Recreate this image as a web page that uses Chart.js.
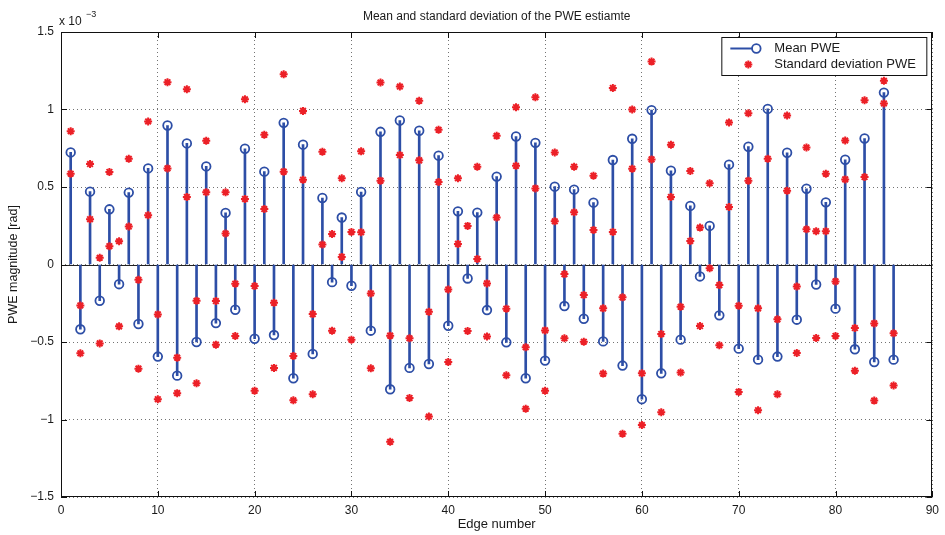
<!DOCTYPE html>
<html>
<head>
<meta charset="utf-8">
<script src="https://cdn.jsdelivr.net/npm/chart.js@4/dist/chart.umd.min.js"></script>
<style>
  html, body { margin: 0; padding: 0; background: #fff; }
  #wrap { width: 945px; height: 535px; }
</style>
</head>
<body>
<div id="wrap"><canvas id="pweChart" width="945" height="535"></canvas></div>
<script>
// values are in units of 1e-3 rad
var edges = Array.from({ length: 86 }, function (_, i) { return i + 1; });

var meanPWE = [0.723,-0.418,0.470,-0.234,0.356,-0.127,0.464,-0.384,0.620,-0.594,
  0.897,-0.717,0.781,-0.500,0.633,-0.378,0.333,-0.292,0.747,-0.479,
  0.599,-0.455,0.914,-0.734,0.773,-0.577,0.429,-0.114,0.303,-0.137,
  0.468,-0.427,0.856,-0.805,0.929,-0.667,0.863,-0.642,0.702,-0.395,
  0.343,-0.090,0.335,-0.294,0.567,-0.502,0.826,-0.734,0.785,-0.620,
  0.502,-0.268,0.483,-0.350,0.399,-0.496,0.674,-0.652,0.811,-0.869,
  0.996,-0.702,0.605,-0.485,0.378,-0.077,0.249,-0.328,0.644,-0.543,
  0.760,-0.614,1.004,-0.594,0.721,-0.356,0.489,-0.129,0.401,-0.285,
  0.676,-0.547,0.813,-0.629,1.109,-0.614];

var stdUpper = [0.860,-0.264,0.648,0.043,0.597,0.150,0.682,-0.099,0.923,-0.322,
  1.176,-0.601,1.131,-0.234,0.798,-0.236,0.466,-0.124,1.066,-0.139,
  0.837,-0.247,1.227,-0.590,0.991,-0.320,0.727,0.197,0.556,0.210,
  0.730,-0.187,1.174,-0.459,1.148,-0.476,1.056,-0.305,0.869,-0.161,
  0.556,0.249,0.631,-0.122,0.830,-0.285,1.015,-0.534,1.079,-0.425,
  0.723,-0.062,0.631,-0.197,0.573,-0.283,1.139,-0.212,1.000,-0.702,
  1.309,-0.448,0.773,-0.273,0.603,0.238,0.524,-0.133,0.916,-0.266,
  0.976,-0.283,1.326,-0.354,0.961,-0.142,0.755,0.215,0.586,-0.109,
  0.800,-0.410,1.060,-0.380,1.185,-0.444];

var stdLower = [0.586,-0.573,0.292,-0.509,0.118,-0.399,0.245,-0.672,0.318,-0.869,
  0.620,-0.830,0.436,-0.766,0.466,-0.517,0.200,-0.461,0.423,-0.815,
  0.358,-0.667,0.599,-0.876,0.547,-0.837,0.129,-0.427,0.049,-0.485,
  0.208,-0.670,0.541,-1.144,0.706,-0.861,0.672,-0.981,0.532,-0.629,
  0.133,-0.429,0.036,-0.464,0.303,-0.715,0.637,-0.931,0.491,-0.815,
  0.279,-0.476,0.337,-0.498,0.223,-0.704,0.210,-1.092,0.618,-1.036,
  0.678,-0.953,0.436,-0.697,0.152,-0.397,-0.024,-0.521,0.371,-0.822,
  0.541,-0.940,0.682,-0.837,0.476,-0.571,0.227,-0.474,0.215,-0.461,
  0.549,-0.685,0.564,-0.878,1.039,-0.781];

var xTicks = [0, 10, 20, 30, 40, 50, 60, 70, 80, 90];
var yTicks = [-1.5, -1, -0.5, 0, 0.5, 1, 1.5];

var blue = '#2d4ea6';
var red = '#ec2027';
var textColor = '#1a1a1a';
var fontFamily = '"Liberation Sans", Arial, Helvetica, sans-serif';

function pts(ys) {
  return edges.map(function (e, i) { return { x: e, y: ys[i] }; });
}

function fmtTick(v) {
  var s = String(Math.abs(v));
  return v < 0 ? '\u2212' + s : s;
}

// frame, baseline, inward ticks, titles and in-axes legend
var matlabDecor = {
  id: 'matlabDecor',
  beforeDatasetsDraw: function (chart) {
    var c = chart.ctx, a = chart.chartArea, y = chart.scales.y;
    var y0 = Math.round(y.getPixelForValue(0)) + 0.5;
    c.save();
    c.strokeStyle = '#222';
    c.lineWidth = 1;
    c.beginPath();
    c.moveTo(a.left, y0);
    c.lineTo(a.right, y0);
    c.stroke();
    c.restore();
  },
  afterDatasetsDraw: function (chart) {
    var c = chart.ctx, a = chart.chartArea;
    var xs = chart.scales.x, ys = chart.scales.y;
    c.save();
    // box
    c.strokeStyle = '#111';
    c.lineWidth = 1;
    c.strokeRect(Math.round(a.left) + 0.5, Math.round(a.top) + 0.5,
      Math.round(a.right - a.left) - 1, Math.round(a.bottom - a.top) - 1);
    // inward ticks
    var tl = 6;
    c.beginPath();
    xTicks.forEach(function (t) {
      var px = Math.round(xs.getPixelForValue(t)) + 0.5;
      c.moveTo(px, a.bottom); c.lineTo(px, a.bottom - tl);
      c.moveTo(px, a.top); c.lineTo(px, a.top + tl);
    });
    yTicks.forEach(function (t) {
      var py = Math.round(ys.getPixelForValue(t)) + 0.5;
      c.moveTo(a.left, py); c.lineTo(a.left + tl, py);
      c.moveTo(a.right, py); c.lineTo(a.right - tl, py);
    });
    c.stroke();

    // legend box
    var lx = a.right - 211, ly = a.top + 5, lw = 205, lh = 38;
    c.fillStyle = '#fff';
    c.fillRect(lx, ly, lw, lh);
    c.strokeStyle = '#111';
    c.strokeRect(lx + 0.5, ly + 0.5, lw, lh);
    c.strokeStyle = blue;
    c.lineWidth = 2;
    c.beginPath();
    c.moveTo(lx + 9, ly + 11.5);
    c.lineTo(lx + 31, ly + 11.5);
    c.stroke();
    c.lineWidth = 1.8;
    c.beginPath();
    c.arc(lx + 35, ly + 11.5, 4.3, 0, Math.PI * 2);
    c.stroke();
    c.strokeStyle = red;
    c.lineWidth = 2;
    Chart.helpers.drawPoint(c, { pointStyle: 'star', radius: 4, borderWidth: 2 }, lx + 27, ly + 27.5);
    c.fillStyle = textColor;
    c.font = '13px ' + fontFamily;
    c.textBaseline = 'middle';
    c.textAlign = 'left';
    c.fillText('Mean PWE', lx + 53, ly + 11.5);
    c.fillText('Standard deviation PWE', lx + 53, ly + 27.5);
    c.restore();
  },
  afterDraw: function (chart) {
    var c = chart.ctx, a = chart.chartArea;
    c.save();
    c.fillStyle = textColor;
    c.textBaseline = 'middle';
    c.font = '12px ' + fontFamily;
    c.textAlign = 'center';
    c.fillText('Mean and standard deviation of the PWE estiamte', (a.left + a.right) / 2, 17);
    c.font = '13px ' + fontFamily;
    c.fillText('Edge number', (a.left + a.right) / 2, 524);
    // exponent label above the y axis
    c.textAlign = 'left';
    c.font = '12px ' + fontFamily;
    c.fillText('x 10', a.left - 2, 22);
    c.font = '9px ' + fontFamily;
    c.fillText('\u22123', a.left + 25, 15);
    // y axis title
    c.translate(14, (a.top + a.bottom) / 2);
    c.rotate(-Math.PI / 2);
    c.textAlign = 'center';
    c.font = '12.5px ' + fontFamily;
    c.fillText('PWE magnitude [rad]', 0, 0);
    c.restore();
  }
};

new Chart(document.getElementById('pweChart'), {
  type: 'bar',
  data: {
    datasets: [
      {
        type: 'scatter',
        label: 'Standard deviation PWE',
        data: pts(stdUpper),
        pointStyle: 'star',
        pointRadius: 4,
        borderWidth: 2,
        borderColor: red,
        backgroundColor: red,
        order: 0
      },
      {
        type: 'scatter',
        label: 'Standard deviation PWE (lower)',
        data: pts(stdLower),
        pointStyle: 'star',
        pointRadius: 4,
        borderWidth: 2,
        borderColor: red,
        backgroundColor: red,
        order: 0
      },
      {
        type: 'scatter',
        label: 'Mean PWE',
        data: pts(meanPWE),
        pointStyle: 'circle',
        pointRadius: 4.3,
        borderWidth: 1.8,
        borderColor: blue,
        backgroundColor: 'rgba(0,0,0,0)',
        order: 1
      },
      {
        type: 'bar',
        label: 'stems',
        data: pts(meanPWE),
        backgroundColor: blue,
        borderWidth: 0,
        barThickness: 2,
        grouped: false,
        order: 2
      }
    ]
  },
  options: {
    responsive: false,
    animation: false,
    layout: { padding: { top: 32, right: 8, left: 0, bottom: 0 } },
    plugins: {
      legend: { display: false },
      title: { display: false },
      tooltip: { enabled: false }
    },
    scales: {
      x: {
        type: 'linear',
        min: 0,
        max: 90,
        offset: false,
        afterBuildTicks: function (s) { s.ticks = xTicks.map(function (v) { return { value: v }; }); },
        afterFit: function (s) { s.height = 38; },
        grid: { offset: false, color: 'rgba(0,0,0,0.55)', lineWidth: 1, drawTicks: false },
        border: { display: false, dash: [1, 3] },
        ticks: {
          padding: 6,
          maxRotation: 0,
          color: textColor,
          font: { family: fontFamily, size: 12 },
          callback: function (v) { return fmtTick(v); }
        }
      },
      y: {
        min: -1.5,
        max: 1.5,
        afterBuildTicks: function (s) { s.ticks = yTicks.map(function (v) { return { value: v }; }); },
        afterFit: function (s) { s.width = 61; },
        grid: { color: 'rgba(0,0,0,0.55)', lineWidth: 1, drawTicks: false },
        border: { display: false, dash: [1, 3] },
        ticks: {
          padding: 7,
          color: textColor,
          font: { family: fontFamily, size: 12 },
          callback: function (v) { return fmtTick(v); }
        }
      }
    }
  },
  plugins: [matlabDecor]
});
</script>
</body>
</html>
